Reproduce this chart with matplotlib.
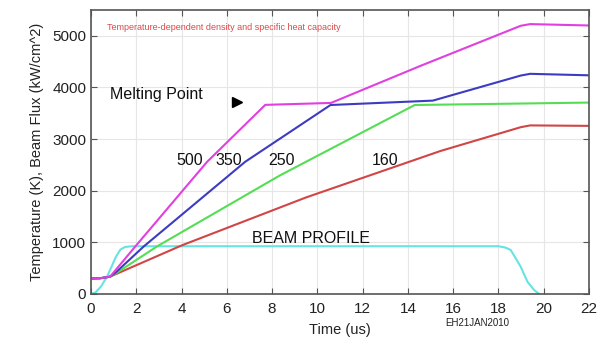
import numpy as np
import matplotlib
matplotlib.use('Agg')
import matplotlib.pyplot as plt

plt.rcParams['font.family'] = ['Liberation Sans', 'DejaVu Sans']

# temperature curves, heating rate labels in K/us
t_500 = [0, 0.4, 0.84, 1.1, 1.95, 5.13, 7.7, 10.6, 14.56, 18.98, 19.4, 22]
T_500 = [300, 305, 335, 470, 917, 2560, 3663, 3700, 4419, 5194, 5227, 5200]

t_350 = [0, 0.4, 0.84, 1.1, 2.32, 6.81, 10.58, 15.1, 18.98, 19.4, 22]
T_350 = [300, 305, 335, 420, 917, 2560, 3660, 3745, 4230, 4264, 4235]

t_250 = [0, 0.4, 0.84, 1.1, 2.9, 8.36, 14.3, 22]
T_250 = [300, 305, 335, 400, 917, 2300, 3660, 3707]

t_160 = [0, 0.4, 0.84, 1.1, 4.0, 9.5, 15.44, 18.98, 19.4, 22]
T_160 = [300, 305, 335, 385, 940, 1870, 2770, 3230, 3265, 3256]

# beam profile
t_beam = [0, 0.2, 0.45, 0.7, 0.9, 1.1, 1.3, 1.5, 1.8, 18.0, 18.3, 18.54, 18.98, 19.28, 19.57, 19.8]
F_beam = [0, 30, 150, 330, 520, 720, 860, 910, 925, 925, 900, 853, 529, 238, 78, 0]

rate_labels = ['500', '350', '250', '160']
rate_x = [4.38, 6.1, 8.4, 13.0]

fig = plt.figure(figsize=(6.05, 3.4), dpi=100)
ax = fig.add_axes([0.1504, 0.1353, 0.8232, 0.8353])

ax.plot(t_beam, F_beam, color='#66e3e3', lw=1.5)
ax.plot(t_160, T_160, color='#d04545', lw=1.5)
ax.plot(t_250, T_250, color='#55dd55', lw=1.5)
ax.plot(t_350, T_350, color='#3c3cc0', lw=1.5)
ax.plot(t_500, T_500, color='#e040e0', lw=1.5)

ax.set_xlim(0, 22)
ax.set_ylim(0, 5500)
ax.set_xticks(np.arange(0, 23, 2))
ax.set_yticks(np.arange(0, 5001, 1000))
ax.grid(True, color='#e6e6e6', lw=0.8)
ax.set_axisbelow(True)
ax.tick_params(direction='in', top=True, right=True, labelsize=11, length=4,
               color='#555555', labelcolor='#222222')
ax.tick_params(axis='x', pad=6)
for s in ax.spines.values():
    s.set_color('#555555')
    s.set_linewidth(1.2)

ax.set_xlabel('Time (us)', fontsize=10.5, color='#222222', labelpad=5)
ax.set_ylabel('Temperature (K), Beam Flux (kW/cm^2)', fontsize=10.5, color='#222222', labelpad=6)

ax.text(0.7, 5155, 'Temperature-dependent density and specific heat capacity',
        fontsize=6.5, color='#dd4848', va='center')
ax.text(0.84, 3870, 'Melting Point', fontsize=11.5, va='center', color='#111111')
ax.plot([6.46], [3720], marker='>', color='black', markersize=7, ls='none')
for lab, x in zip(rate_labels, rate_x):
    ax.text(x, 2580, lab, fontsize=11.5, ha='center', va='center', color='#111111')
ax.text(7.12, 1066, 'BEAM PROFILE', fontsize=11.5, va='center', color='#111111')

fig.text(477 / 605, 1 - 323 / 340, 'EH21JAN2010', fontsize=7, ha='center', va='center',
         color='#222222')

fig.savefig('out.png', dpi=100)
